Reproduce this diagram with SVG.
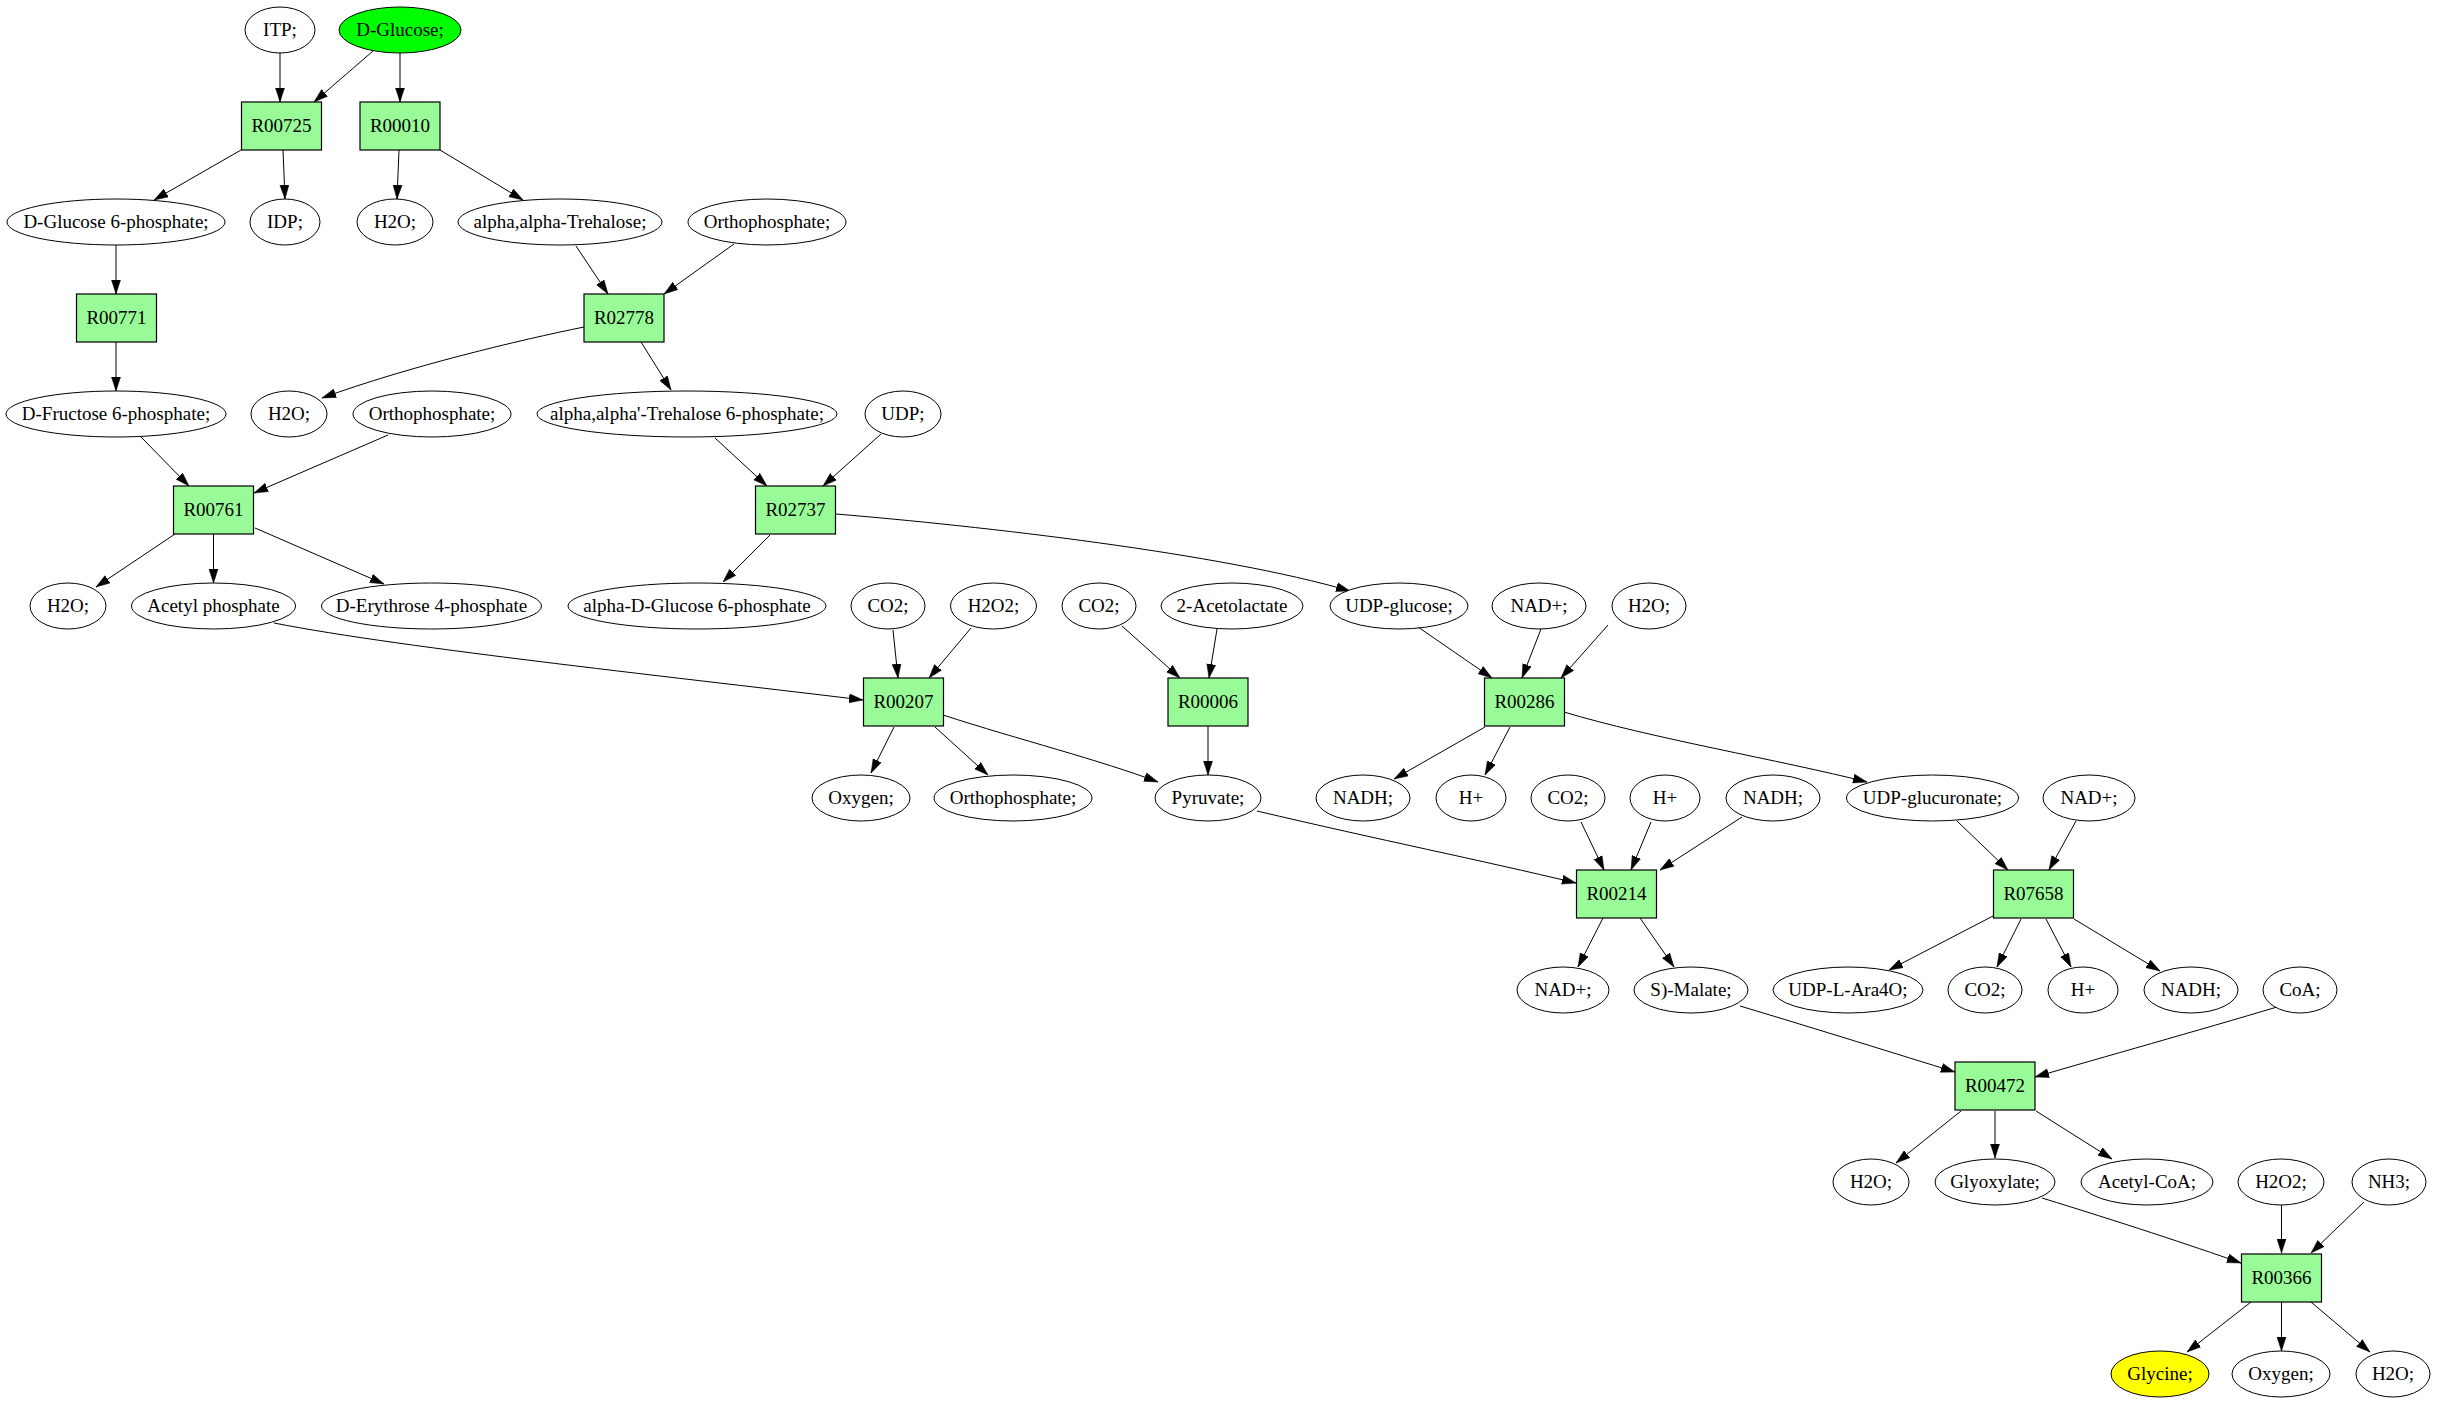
<svg xmlns="http://www.w3.org/2000/svg" width="2437" height="1403" viewBox="0 0 2437 1403">
<style>
.c ellipse{fill:#ffffff;stroke:#000000;stroke-width:1}
.r rect{fill:#98fb98;stroke:#000000;stroke-width:1.2}
text{font-family:"Liberation Serif","Times New Roman",serif;font-size:19px;text-anchor:middle;fill:#000000}
#edges path{fill:none;stroke:#000000;stroke-width:1;marker-end:url(#ah)}
</style>
<defs>
<marker id="ah" markerUnits="userSpaceOnUse" markerWidth="14" markerHeight="10" refX="14" refY="5" orient="auto">
<path d="M0,0.5 L14,5 L0,9.5 z" fill="#000000" stroke="#000000" stroke-width="0.5"/>
</marker>
</defs>
<rect x="0" y="0" width="2437" height="1403" fill="#ffffff"/>
<g id="edges">
<path d="M280,53 L280,102"/>
<path d="M373,51 L314,102"/>
<path d="M400,53 L400,102"/>
<path d="M241,150 L154,200"/>
<path d="M283,150 L285,199"/>
<path d="M399,150 L397,199"/>
<path d="M440,150 L523,200"/>
<path d="M116,245 L116,294"/>
<path d="M576,246 L608,294"/>
<path d="M734,244 L664,294"/>
<path d="M116,342 L116,391"/>
<path d="M584,327 C520,340 410,366 322,398"/>
<path d="M641,342 L671,390"/>
<path d="M141,437 L189,486"/>
<path d="M388,435 L254,493"/>
<path d="M715,438 L767,486"/>
<path d="M881,434 L823,486"/>
<path d="M175,534 L96,587"/>
<path d="M213.5,534 L213.5,583"/>
<path d="M255,528 L384,584"/>
<path d="M770,535 L723,582"/>
<path d="M836,514 C980,526 1220,553 1350,591"/>
<path d="M274,623 C400,648 700,680 863,700"/>
<path d="M893,630 L898,678"/>
<path d="M971,628 L929,678"/>
<path d="M1122,626 L1180,678"/>
<path d="M1217,629 L1209,678"/>
<path d="M1418,627 L1492,678"/>
<path d="M1541,629 L1522,678"/>
<path d="M1608,625 L1561,678"/>
<path d="M894,727 L871,773"/>
<path d="M935,727 L988,775"/>
<path d="M943,715 C1020,740 1100,760 1158,782"/>
<path d="M1208,726 L1208,775"/>
<path d="M1485,727 L1394,779"/>
<path d="M1510,727 L1485,775"/>
<path d="M1564,712 C1650,738 1780,760 1867,782"/>
<path d="M1581,822 L1604,870"/>
<path d="M1651,822 L1631,870"/>
<path d="M1742,817 L1660,870"/>
<path d="M1257,811 C1380,840 1480,860 1576,883"/>
<path d="M1957,821 L2008,870"/>
<path d="M2076,821 L2049,870"/>
<path d="M1603,918 L1578,967"/>
<path d="M1640,918 L1674,967"/>
<path d="M1993,916 L1889,970"/>
<path d="M2021,919 L1997,967"/>
<path d="M2046,919 L2071,967"/>
<path d="M2074,919 L2160,971"/>
<path d="M1740,1006 C1820,1030 1900,1055 1955,1072"/>
<path d="M2277,1007 C2200,1030 2100,1058 2035,1077"/>
<path d="M1961,1111 L1896,1163"/>
<path d="M1995,1111 L1995,1158"/>
<path d="M2036,1111 L2112,1159"/>
<path d="M2042,1198 C2120,1222 2190,1245 2241,1263"/>
<path d="M2281.5,1205 L2281.5,1253"/>
<path d="M2364,1202 L2311,1253"/>
<path d="M2251,1302 L2187,1352"/>
<path d="M2281.5,1302 L2281.5,1351"/>
<path d="M2311,1302 L2370,1352"/>
</g>
<g id="n_ITP" class="c"><ellipse cx="280" cy="30" rx="35" ry="23"/><text x="280" y="36">ITP;</text></g>
<g id="n_DGlucose" class="c"><ellipse cx="400" cy="30" rx="61" ry="23" style="fill:#00ff00"/><text x="400" y="36">D-Glucose;</text></g>
<g id="r_R00725" class="r"><rect x="241.5" y="102" width="80" height="48"/><text x="281.5" y="132">R00725</text></g>
<g id="r_R00010" class="r"><rect x="360" y="102" width="80" height="48"/><text x="400" y="132">R00010</text></g>
<g id="n_G6P" class="c"><ellipse cx="116" cy="222" rx="109" ry="23"/><text x="116" y="228">D-Glucose 6-phosphate;</text></g>
<g id="n_IDP" class="c"><ellipse cx="285" cy="222" rx="35" ry="23"/><text x="285" y="228">IDP;</text></g>
<g id="n_H2O_1" class="c"><ellipse cx="395" cy="222" rx="38" ry="23"/><text x="395" y="228">H2O;</text></g>
<g id="n_Trehalose" class="c"><ellipse cx="560" cy="222" rx="102" ry="23"/><text x="560" y="228">alpha,alpha-Trehalose;</text></g>
<g id="n_Pi_1" class="c"><ellipse cx="767" cy="222" rx="79" ry="23"/><text x="767" y="228">Orthophosphate;</text></g>
<g id="r_R00771" class="r"><rect x="76.5" y="294" width="80" height="48"/><text x="116.5" y="324">R00771</text></g>
<g id="r_R02778" class="r"><rect x="584" y="294" width="80" height="48"/><text x="624" y="324">R02778</text></g>
<g id="n_F6P" class="c"><ellipse cx="116" cy="414" rx="110" ry="23"/><text x="116" y="420">D-Fructose 6-phosphate;</text></g>
<g id="n_H2O_2" class="c"><ellipse cx="289" cy="414" rx="38" ry="23"/><text x="289" y="420">H2O;</text></g>
<g id="n_Pi_2" class="c"><ellipse cx="432" cy="414" rx="79" ry="23"/><text x="432" y="420">Orthophosphate;</text></g>
<g id="n_T6P" class="c"><ellipse cx="687" cy="414" rx="150" ry="23"/><text x="687" y="420">alpha,alpha'-Trehalose 6-phosphate;</text></g>
<g id="n_UDP" class="c"><ellipse cx="903" cy="414" rx="38" ry="23"/><text x="903" y="420">UDP;</text></g>
<g id="r_R00761" class="r"><rect x="173.5" y="486" width="80" height="48"/><text x="213.5" y="516">R00761</text></g>
<g id="r_R02737" class="r"><rect x="755.5" y="486" width="80" height="48"/><text x="795.5" y="516">R02737</text></g>
<g id="n_H2O_3" class="c"><ellipse cx="68" cy="606" rx="38" ry="23"/><text x="68" y="612">H2O;</text></g>
<g id="n_AcP" class="c"><ellipse cx="213.5" cy="606" rx="82" ry="23"/><text x="213.5" y="612">Acetyl phosphate</text></g>
<g id="n_E4P" class="c"><ellipse cx="431.5" cy="606" rx="110" ry="23"/><text x="431.5" y="612">D-Erythrose 4-phosphate</text></g>
<g id="n_aG6P" class="c"><ellipse cx="697" cy="606" rx="129" ry="23"/><text x="697" y="612">alpha-D-Glucose 6-phosphate</text></g>
<g id="n_CO2_1" class="c"><ellipse cx="888" cy="606" rx="37" ry="23"/><text x="888" y="612">CO2;</text></g>
<g id="n_H2O2_1" class="c"><ellipse cx="993.5" cy="606" rx="43" ry="23"/><text x="993.5" y="612">H2O2;</text></g>
<g id="n_CO2_2" class="c"><ellipse cx="1099" cy="606" rx="37" ry="23"/><text x="1099" y="612">CO2;</text></g>
<g id="n_Acetolactate" class="c"><ellipse cx="1232" cy="606" rx="71" ry="23"/><text x="1232" y="612">2-Acetolactate</text></g>
<g id="n_UDPglc" class="c"><ellipse cx="1399" cy="606" rx="69" ry="23"/><text x="1399" y="612">UDP-glucose;</text></g>
<g id="n_NAD_1" class="c"><ellipse cx="1539" cy="606" rx="47" ry="23"/><text x="1539" y="612">NAD+;</text></g>
<g id="n_H2O_4" class="c"><ellipse cx="1649" cy="606" rx="37" ry="23"/><text x="1649" y="612">H2O;</text></g>
<g id="r_R00207" class="r"><rect x="863.5" y="678" width="80" height="48"/><text x="903.5" y="708">R00207</text></g>
<g id="r_R00006" class="r"><rect x="1168" y="678" width="80" height="48"/><text x="1208" y="708">R00006</text></g>
<g id="r_R00286" class="r"><rect x="1484.5" y="678" width="80" height="48"/><text x="1524.5" y="708">R00286</text></g>
<g id="n_O2_1" class="c"><ellipse cx="861" cy="798" rx="49" ry="23"/><text x="861" y="804">Oxygen;</text></g>
<g id="n_Pi_3" class="c"><ellipse cx="1013" cy="798" rx="79" ry="23"/><text x="1013" y="804">Orthophosphate;</text></g>
<g id="n_Pyruvate" class="c"><ellipse cx="1208" cy="798" rx="53" ry="23"/><text x="1208" y="804">Pyruvate;</text></g>
<g id="n_NADH_1" class="c"><ellipse cx="1363" cy="798" rx="47" ry="23"/><text x="1363" y="804">NADH;</text></g>
<g id="n_Hp_1" class="c"><ellipse cx="1471" cy="798" rx="35" ry="23"/><text x="1471" y="804">H+</text></g>
<g id="n_CO2_3" class="c"><ellipse cx="1568" cy="798" rx="37" ry="23"/><text x="1568" y="804">CO2;</text></g>
<g id="n_Hp_2" class="c"><ellipse cx="1665" cy="798" rx="35" ry="23"/><text x="1665" y="804">H+</text></g>
<g id="n_NADH_2" class="c"><ellipse cx="1773" cy="798" rx="47" ry="23"/><text x="1773" y="804">NADH;</text></g>
<g id="n_UDPGlcA" class="c"><ellipse cx="1932.5" cy="798" rx="86" ry="23"/><text x="1932.5" y="804">UDP-glucuronate;</text></g>
<g id="n_NAD_2" class="c"><ellipse cx="2089" cy="798" rx="46" ry="23"/><text x="2089" y="804">NAD+;</text></g>
<g id="r_R00214" class="r"><rect x="1576.5" y="870" width="80" height="48"/><text x="1616.5" y="900">R00214</text></g>
<g id="r_R07658" class="r"><rect x="1993.5" y="870" width="80" height="48"/><text x="2033.5" y="900">R07658</text></g>
<g id="n_NAD_3" class="c"><ellipse cx="1563" cy="990" rx="46" ry="23"/><text x="1563" y="996">NAD+;</text></g>
<g id="n_Malate" class="c"><ellipse cx="1691" cy="990" rx="57" ry="23"/><text x="1691" y="996">S)-Malate;</text></g>
<g id="n_UDPAra4O" class="c"><ellipse cx="1848" cy="990" rx="75" ry="23"/><text x="1848" y="996">UDP-L-Ara4O;</text></g>
<g id="n_CO2_4" class="c"><ellipse cx="1985" cy="990" rx="37" ry="23"/><text x="1985" y="996">CO2;</text></g>
<g id="n_Hp_3" class="c"><ellipse cx="2083" cy="990" rx="35" ry="23"/><text x="2083" y="996">H+</text></g>
<g id="n_NADH_3" class="c"><ellipse cx="2191" cy="990" rx="47" ry="23"/><text x="2191" y="996">NADH;</text></g>
<g id="n_CoA" class="c"><ellipse cx="2300" cy="990" rx="37" ry="23"/><text x="2300" y="996">CoA;</text></g>
<g id="r_R00472" class="r"><rect x="1955" y="1062" width="80" height="48"/><text x="1995" y="1092">R00472</text></g>
<g id="n_H2O_5" class="c"><ellipse cx="1871" cy="1182" rx="38" ry="23"/><text x="1871" y="1188">H2O;</text></g>
<g id="n_Glyoxylate" class="c"><ellipse cx="1995" cy="1182" rx="60" ry="23"/><text x="1995" y="1188">Glyoxylate;</text></g>
<g id="n_AcCoA" class="c"><ellipse cx="2147" cy="1182" rx="66" ry="23"/><text x="2147" y="1188">Acetyl-CoA;</text></g>
<g id="n_H2O2_2" class="c"><ellipse cx="2281" cy="1182" rx="43" ry="23"/><text x="2281" y="1188">H2O2;</text></g>
<g id="n_NH3" class="c"><ellipse cx="2389" cy="1182" rx="37" ry="23"/><text x="2389" y="1188">NH3;</text></g>
<g id="r_R00366" class="r"><rect x="2241.5" y="1254" width="80" height="48"/><text x="2281.5" y="1284">R00366</text></g>
<g id="n_Glycine" class="c"><ellipse cx="2160" cy="1374" rx="49" ry="23" style="fill:#ffff00"/><text x="2160" y="1380">Glycine;</text></g>
<g id="n_O2_2" class="c"><ellipse cx="2281" cy="1374" rx="49" ry="23"/><text x="2281" y="1380">Oxygen;</text></g>
<g id="n_H2O_6" class="c"><ellipse cx="2393" cy="1374" rx="37" ry="23"/><text x="2393" y="1380">H2O;</text></g>
</svg>
